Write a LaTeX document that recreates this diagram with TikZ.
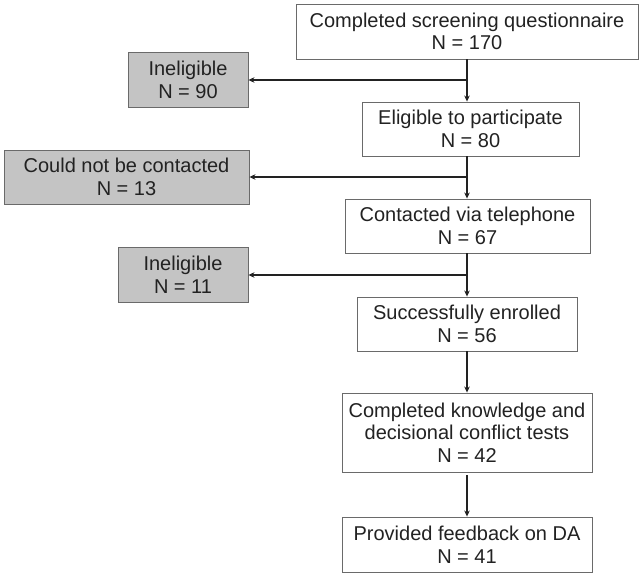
\documentclass[tikz,border=0pt]{standalone}
\usepackage{fontspec}
\setmainfont{Liberation Sans}
\usetikzlibrary{arrows.meta}
\definecolor{txt}{HTML}{222222}
\definecolor{boxline}{HTML}{6A6A6A}
\definecolor{grayfill}{HTML}{C4C4C4}
\begin{document}
\begin{tikzpicture}[x=1pt,y=-1pt,
  box/.style={draw=boxline,line width=0.9pt,fill=white,inner sep=0pt,align=center,text=txt,
    font=\fontsize{20}{22.5}\selectfont},
  graybox/.style={box,fill=grayfill},
  arr/.style={draw=txt,line width=1.9pt,-{Stealth[length=6pt,width=5.5pt]}}]
\useasboundingbox (0,0) rectangle (641,576);
\fill[white] (0,0) rectangle (641,576);
\node[box,minimum width=342pt,minimum height=55pt] (b1) at (467,31.5) {Completed screening questionnaire\\N = 170};
\node[box,minimum width=217pt,minimum height=54pt] (b2) at (470.5,129) {Eligible to participate\\N = 80};
\node[box,minimum width=245pt,minimum height=54pt] (b3) at (467.5,226) {Contacted via telephone\\N = 67};
\node[box,minimum width=220pt,minimum height=54pt] (b4) at (467,324) {Successfully enrolled\\N = 56};
\node[box,minimum width=250pt,minimum height=79pt] (b5) at (467,432.5) {Completed knowledge and\\decisional conflict tests\\N = 42};
\node[box,minimum width=250pt,minimum height=55pt] (b6) at (467,544.5) {Provided feedback on DA\\N = 41};
\node[graybox,minimum width=120pt,minimum height=55pt] (g1) at (188,80) {Ineligible\\N = 90};
\node[graybox,minimum width=245pt,minimum height=54pt] (g2) at (126.5,177) {Could not be contacted\\N = 13};
\node[graybox,minimum width=130pt,minimum height=55pt] (g3) at (183,275) {Ineligible\\N = 11};
\draw[arr] (b1.south) -- (b1.south |- b2.north);
\draw[arr] (b1.south |- g1.east) -- (g1.east);
\draw[arr] (b1.south |- b2.south) -- (b1.south |- b3.north);
\draw[arr] (b1.south |- g2.east) -- (g2.east);
\draw[arr] (b3.south -| b1.south) -- (b1.south |- b4.north);
\draw[arr] (b1.south |- g3.east) -- (g3.east);
\draw[arr] (b4.south) -- (b5.north);
\draw[arr] ([yshift=-3pt]b5.south) -- (b6.north);
\end{tikzpicture}
\end{document}
